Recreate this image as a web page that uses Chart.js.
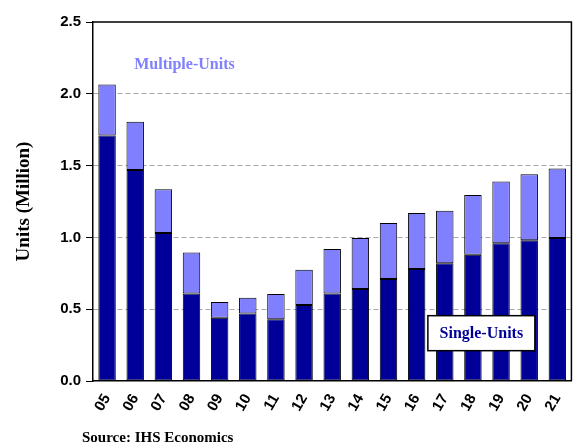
<!DOCTYPE html>
<html><head><meta charset="utf-8">
<script src="https://cdn.jsdelivr.net/npm/chart.js@4/dist/chart.umd.min.js"></script>
<style>html,body{margin:0;padding:0;background:#fff}</style>
</head><body>
<canvas id="c" width="575" height="443"></canvas>
<script>
const years = ['05','06','07','08','09','10','11','12','13','14','15','16','17','18','19','20','21'];
const singleUnits   = [1.71,1.47,1.03,0.61,0.44,0.47,0.43,0.53,0.61,0.64,0.71,0.78,0.82,0.88,0.96,0.98,0.995];
const multipleUnits = [0.355,0.335,0.305,0.285,0.11,0.11,0.175,0.245,0.31,0.355,0.39,0.39,0.365,0.415,0.43,0.46,0.485];
const yTicks = [0, 0.5, 1.0, 1.5, 2.0, 2.5];
const seriesNames = ['Single-Units', 'Multiple-Units'];
const sourceText = 'Source: IHS Economics';
const yTitle = 'Units (Million)';

const DARK = '#000099', LIGHT = '#8080FF';

const extras = {
  id: 'extras',
  afterDraw(chart) {
    const ctx = chart.ctx, a = chart.chartArea;
    const xs = chart.scales.x, ys = chart.scales.y;
    ctx.save();
    ctx.strokeStyle = '#000'; ctx.lineWidth = 1.5; ctx.setLineDash([]);
    ctx.beginPath();
    ctx.moveTo(a.left, a.top); ctx.lineTo(a.right, a.top); ctx.lineTo(a.right, a.bottom);
    ctx.stroke();
    const step = xs.getPixelForValue(1) - xs.getPixelForValue(0);
    ctx.font = 'bold 16px "Liberation Serif"';
    ctx.fillStyle = LIGHT; ctx.textAlign = 'center'; ctx.textBaseline = 'middle';
    ctx.fillText(seriesNames[1], xs.getPixelForValue(0) + step * 2.75, ys.getPixelForValue(2.2));
    const cx = xs.getPixelForValue(0) + step * 13.3, cy = ys.getPixelForValue(0.333);
    const w = 107, h = 35;
    ctx.fillStyle = '#fff';
    ctx.fillRect(cx - w/2, cy - h/2, w, h);
    ctx.strokeStyle = '#000'; ctx.lineWidth = 1.5;
    ctx.strokeRect(cx - w/2, cy - h/2, w, h);
    ctx.fillStyle = DARK;
    ctx.fillText(seriesNames[0], cx, cy + 1);
    ctx.fillStyle = '#000'; ctx.textAlign = 'left'; ctx.textBaseline = 'alphabetic';
    ctx.font = 'bold 15px "Liberation Serif"';
    ctx.fillText(sourceText, 82, 442);
    ctx.restore();
  }
};

new Chart(document.getElementById('c'), {
  type: 'bar',
  data: {
    labels: years,
    datasets: [
      { label: seriesNames[0], data: singleUnits, backgroundColor: DARK, borderColor: '#000', borderWidth: 1, borderSkipped: false, barPercentage: 0.62, categoryPercentage: 1 },
      { label: seriesNames[1], data: multipleUnits, backgroundColor: LIGHT, borderColor: '#000', borderWidth: 1, borderSkipped: false, barPercentage: 0.62, categoryPercentage: 1 }
    ]
  },
  options: {
    responsive: false,
    animation: false,
    devicePixelRatio: 1,
    layout: { padding: { left: 0, right: 2, top: 22, bottom: 0 } },
    plugins: { legend: { display: false }, tooltip: { enabled: false } },
    scales: {
      x: {
        stacked: true,
        grid: { display: false },
        border: { display: true, color: '#000', width: 1.5 },
        ticks: { color: '#000', font: { family: 'Liberation Sans', weight: 'bold', size: 15 }, maxRotation: 60, minRotation: 60, padding: 2 },
        afterFit(s) { s.height = 62; }
      },
      y: {
        stacked: true,
        min: 0, max: 2.5,
        afterBuildTicks(s) { s.ticks = yTicks.map(v => ({ value: v })); },
        ticks: { color: '#000', font: { family: 'Liberation Sans', weight: 'bold', size: 15 }, padding: 5, callback: v => Number(v).toFixed(1) },
        grid: {
          color: c => (c.tick && (c.tick.value === 0 || c.tick.value === 2.5)) ? 'rgba(0,0,0,0)' : '#a8a8a8',
          tickColor: '#000', tickLength: 7, tickBorderDash: [], lineWidth: 1
        },
        border: { display: true, color: '#000', width: 1.5, dash: [5, 3] },
        title: { display: true, text: yTitle, color: '#000', font: { family: 'Liberation Serif', weight: 'bold', size: 19 }, padding: { top: 13, bottom: 0 } },
        afterFit(s) { s.width = 93; }
      }
    }
  },
  plugins: [extras]
});
</script>
</body></html>
